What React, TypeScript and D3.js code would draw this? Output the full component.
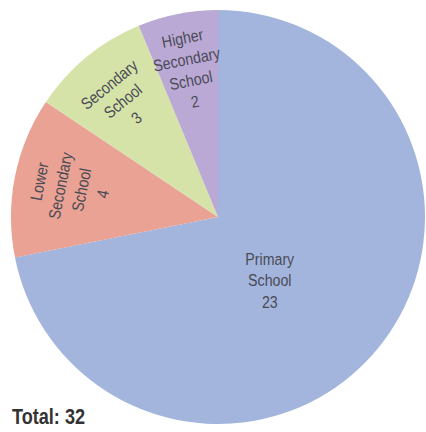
import React from "react";
import * as d3 from "d3";

const categories = ["Primary School", "Lower Secondary School", "Secondary School", "Higher Secondary School"];
const values = [23, 4, 3, 2];
const labelLines = [["Primary", "School"], ["Lower", "Secondary", "School"], ["Secondary", "School"], ["Higher", "Secondary", "School"]];
const colors = ["#a3b5dd", "#e9a294", "#d5e3a9", "#bba9d5"];
const totalLabel = "Total: 32";

const W = 426, H = 432;
const cx = 218, cy = 217, R = 207;
const labelR = 150;
const lineH = 21.5;

export default function App() {
  const data = categories.map((c, i) => ({ c, v: values[i], lines: labelLines[i], color: colors[i] }));
  const pie = d3.pie<any>().value((d: any) => d.v).sort(null);
  const arcs = pie(data);
  const arcGen = d3.arc<any>().innerRadius(0).outerRadius(R);
  const total = d3.sum(values);

  return (
    <svg width={W} height={H} style={{ position: "absolute", left: 0, top: 0, background: "#fff" }}
      fontFamily="'Liberation Sans', Arial, sans-serif">
      <g transform={`translate(${cx},${cy})`}>
        {arcs.map((a, i) => (
          <path key={i} d={arcGen(a) as string} fill={a.data.color} />
        ))}
        {arcs.map((a, i) => {
          const mid = (a.startAngle + a.endAngle) / 2;
          const deg = (mid * 180) / Math.PI;
          const lines = [...a.data.lines, String(a.data.v)];
          const big = a.data.v / total > 0.5;
          let x, y, rot;
          if (big) {
            // largest slice: horizontal label, placed toward the lower middle
            const ang = mid + 0.2;
            x = Math.sin(ang) * 82;
            y = -Math.cos(ang) * 82;
            rot = 0;
          } else {
            x = Math.sin(mid) * labelR;
            y = -Math.cos(mid) * labelR;
            rot = deg > 180 ? deg - 360 : deg;
          }
          const n = lines.length;
          return (
            <g key={"l" + i} transform={`translate(${x},${y}) rotate(${rot}) scale(0.86,1)`}>
              {lines.map((t, j) => (
                <text key={j} x={0} y={(j - (n - 1) / 2) * lineH} dy="0.35em" textAnchor="middle"
                  fontSize={16.5} fill="#4a4a55">{t}</text>
              ))}
            </g>
          );
        })}
      </g>
      <text x={12} y={424} fontSize={22} fontWeight="bold" fill="#333" textLength={73} lengthAdjust="spacingAndGlyphs">{totalLabel}</text>
    </svg>
  );
}
